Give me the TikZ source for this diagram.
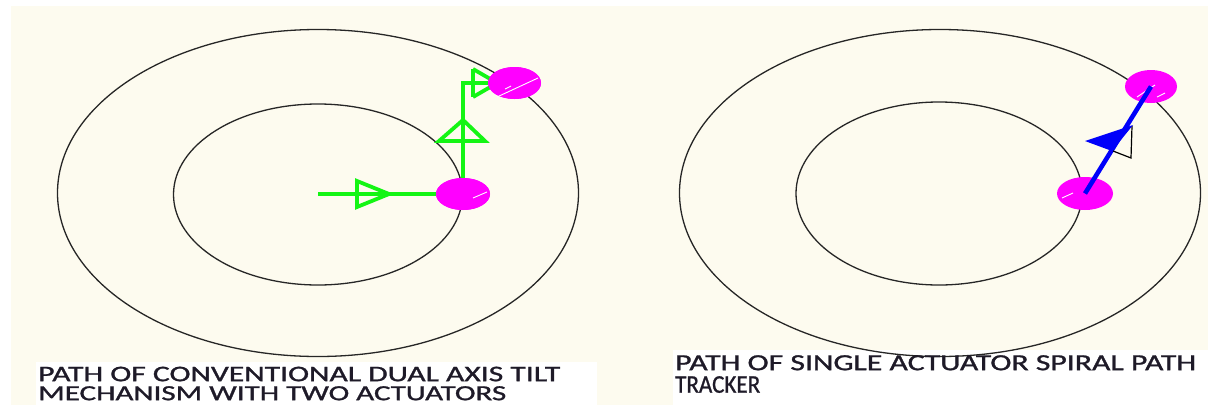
\documentclass[tikz,border=0pt]{standalone}
\usepackage{fontspec}
\usepackage{graphicx}
\setmainfont{Carlito}[FakeBold=1.0]
\usetikzlibrary{shapes.geometric}

\definecolor{paper}{RGB}{253,251,239}
\definecolor{pathgreen}{RGB}{20,245,20}
\definecolor{sunmagenta}{RGB}{255,0,255}
\definecolor{pathblue}{RGB}{0,0,250}
\definecolor{captionink}{RGB}{30,26,40}

% caption line stretched to a given width and cap height
\newcommand{\mycapline}[3]{\resizebox{#1}{#2}{#3}}

\tikzset{
  orbit/.style={ellipse, draw=black!85, line width=1.3pt, inner sep=0pt},
  sundot/.style={ellipse, fill=sunmagenta, draw=none, inner sep=0pt,
                 minimum width=54pt, minimum height=32pt},
  greenpath/.style={draw=pathgreen, line width=4.4pt},
  greentip/.style={draw=pathgreen, line width=3.8pt, line join=miter},
  bluepath/.style={draw=pathblue, line width=4.6pt},
  glint/.style={draw=white, line width=0.9pt},
  caption/.style={anchor=north west, inner sep=0pt, align=left, text=captionink}
}

\begin{document}
\begin{tikzpicture}[x=1pt,y=-1pt]
\useasboundingbox (0,0) rectangle (1208,405);

% paper and caption panels
\fill[white] (0,0) rectangle (1208,405);
\fill[paper] (11,6) rectangle (1208,405);
\fill[white] (36,362) rectangle (597,405);
\fill[white] (673,350) rectangle (1208,405);

% ---------------- left: two actuators ----------------
\node[orbit, minimum width=521pt, minimum height=327pt] (outerL) at (318,193) {};
\node[orbit, minimum width=289pt, minimum height=181pt] (innerL) at (318,194.5) {};
\coordinate (startL) at (318,194);

\node[sundot] (dotLa) at (463,194) {};
\node[sundot, minimum width=53pt] (dotLb) at (514.5,83) {};

% move along the first axis, then along the second
\draw[greenpath] (startL) -- (dotLa.west);
\draw[greenpath] (dotLa.center) |- (dotLb.west);
\draw[greentip] (357,181) -- (357,207) -- (389,194) -- cycle;
\draw[greentip] (439,141) -- (485,141) -- (463,120) -- cycle;
\draw[greentip] (473,69) -- (473,97);
\draw[greentip] (473,69) -- (492,80);
\draw[greentip] (473,97) -- (492,86);

% sun positions drawn over the path
\node[sundot] at (dotLa) {};
\node[sundot, minimum width=53pt] at (dotLb) {};
\draw[glint] (473,198) -- (487,192);
\draw[glint] (497,97) -- (538,78);
\draw[glint] (505,89) -- (511,86);

% ---------------- right: single actuator ----------------
\node[orbit, minimum width=521pt, minimum height=327pt] (outerR) at (940,193) {};
\node[orbit, minimum width=286pt, minimum height=183pt] (innerR) at (939,193.5) {};

\node[sundot, minimum width=56pt, minimum height=33pt] (dotRa) at (1085,193.5) {};
\node[sundot, minimum width=52pt, minimum height=33pt] (dotRb) at (1151,86.5) {};
\draw[glint] (1062,198) -- (1073,193);
\draw[glint] (1137,97) -- (1155,85);
\draw[glint] (1157,97) -- (1165,93);

% direct path along the spiral
\draw[bluepath] (dotRa.center) -- (dotRb.center);
\draw[black, line width=1.2pt] (1132,126) -- (1131,158) -- (1113,151);
\fill[pathblue] (1085,141) -- (1133,125) -- (1112,151) -- cycle;

% ---------------- captions ----------------
\node[caption, font={\fontsize{10}{19}\selectfont}] (capL) at (38,366.5)
  {\mycapline{522pt}{14.5pt}{PATH OF CONVENTIONAL DUAL AXIS TILT}\\
   \mycapline{468pt}{14pt}{MECHANISM WITH TWO ACTUATORS}};
\node[caption, font={\fontsize{10}{22.5}\selectfont}] (capR) at (675,355)
  {\mycapline{521pt}{15pt}{PATH OF SINGLE ACTUATOR SPIRAL PATH}\\
   \mycapline{85pt}{16.5pt}{TRACKER}};
\end{tikzpicture}
\end{document}
